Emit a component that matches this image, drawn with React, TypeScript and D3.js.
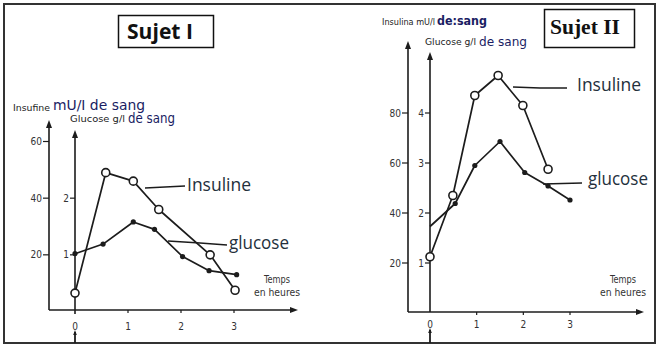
import React from "react";
import * as d3 from "d3";

// ---------- data ----------
const timeTicks = [0, 1, 2, 3];

const s1InsulinTime = [0, 0.58, 1.1, 1.58, 2.55, 3.02];
const s1InsulinValues = [6.5, 49, 46, 36, 20, 7.5];
const s1GlucoseTime = [0, 0.53, 1.1, 1.5, 2.03, 2.53, 3.05];
const s1GlucoseValues = [1.02, 1.19, 1.58, 1.45, 0.97, 0.72, 0.65];
const s1InsulinTicks = [20, 40, 60];
const s1GlucoseTicks = [1, 2];

const s2InsulinTime = [0, 0.49, 0.96, 1.46, 1.99, 2.53];
const s2InsulinValues = [22.5, 47, 87, 95, 83, 57.5];
const s2GlucoseTime = [0, 0.54, 0.96, 1.5, 2.03, 2.53, 3.0];
const s2GlucoseValues = [1.73, 2.19, 2.95, 3.43, 2.81, 2.54, 2.26];
const s2InsulinTicks = [20, 40, 60, 80];
const s2GlucoseTicks = [1, 2, 3, 4];

const INK = "#1c1c1c";
const LEG = "#24303c";
const NAVY = "#1a1d63";

type PanelCfg = {
  x0: number; x3: number;
  yBase: number; yTop: number; insMax: number; gluMax: number;
  insAxisX: number; insAxisTop: number; gluAxisTop: number;
  xAxisY: number; xAxisEnd: number;
  insT: number[]; insV: number[]; gluT: number[]; gluV: number[];
  insTicks: number[]; gluTicks: number[];
  gluFirstMarker: boolean;
  xLabelY: number;
  tempsX: number;
};

function Arrow({ x, y, dir }: { x: number; y: number; dir: "up" | "right" }) {
  const p =
    dir === "up"
      ? `M${x},${y} L${x - 3},${y + 8} L${x + 3},${y + 8} Z`
      : `M${x},${y} L${x - 8},${y - 3} L${x - 8},${y + 3} Z`;
  return <path d={p} fill={INK} />;
}

function Panel({ c }: { c: PanelCfg }) {
  const x = d3.scaleLinear().domain([0, 3]).range([c.x0, c.x3]);
  const yi = d3.scaleLinear().domain([0, c.insMax]).range([c.yBase, c.yTop]);
  const yg = d3.scaleLinear().domain([0, c.gluMax]).range([c.yBase, c.yTop]);
  const insPts: [number, number][] = c.insT.map((t, i) => [x(t), yi(c.insV[i])]);
  const gluPts: [number, number][] = c.gluT.map((t, i) => [x(t), yg(c.gluV[i])]);
  const line = d3.line();
  const gx = x(0);
  const small = "DejaVu Sans Condensed, DejaVu Sans";
  return (
    <g>
      <line x1={c.insAxisX} x2={c.insAxisX} y1={c.xAxisY} y2={c.insAxisTop + 4} stroke={INK} strokeWidth={1.6} />
      <Arrow x={c.insAxisX} y={c.insAxisTop} dir="up" />
      <line x1={gx} x2={gx} y1={c.xLabelY - 12} y2={c.gluAxisTop + 4} stroke={INK} strokeWidth={1.6} />
      <Arrow x={gx} y={c.gluAxisTop} dir="up" />
      <line x1={gx} x2={gx} y1={c.xLabelY + 6} y2={343} stroke={INK} strokeWidth={1.8} />
      <path d={`M${gx},${c.xLabelY + 4} L${gx - 1.8},${c.xLabelY + 9} L${gx + 1.8},${c.xLabelY + 9} Z`} fill={INK} />
      <line x1={c.insAxisX} x2={c.xAxisEnd - 4} y1={c.xAxisY} y2={c.xAxisY} stroke={INK} strokeWidth={1.6} />
      <Arrow x={c.xAxisEnd} y={c.xAxisY} dir="right" />
      {c.insTicks.map((v) => (
        <g key={"i" + v}>
          <line x1={c.insAxisX - 6} x2={c.insAxisX} y1={yi(v)} y2={yi(v)} stroke={INK} strokeWidth={1.2} />
          <text x={c.insAxisX - 7} y={yi(v) + 3.5} fontSize={10} textAnchor="end" fontFamily={small} fill="#333">{v}</text>
        </g>
      ))}
      {c.gluTicks.map((v) => (
        <g key={"g" + v}>
          <line x1={gx - 5} x2={gx} y1={yg(v)} y2={yg(v)} stroke={INK} strokeWidth={1.2} />
          <text x={gx - 6} y={yg(v) + 3.5} fontSize={10} textAnchor="end" fontFamily={small} fill="#333">{v}</text>
        </g>
      ))}
      {timeTicks.map((t) => (
        <g key={"t" + t}>
          {t > 0 && <line x1={x(t)} x2={x(t)} y1={c.xAxisY} y2={c.xAxisY + 3} stroke={INK} strokeWidth={1.2} />}
          <text x={x(t)} y={c.xLabelY + 3.5} fontSize={10} textAnchor="middle" fontFamily={small} fill="#333">{t}</text>
        </g>
      ))}
      <text x={c.tempsX - 13} y={283} fontSize={10} fontFamily={small} fill="#333" textLength={26} lengthAdjust="spacingAndGlyphs">Temps</text>
      <text x={c.tempsX - 23} y={296} fontSize={10} fontFamily={small} fill="#333" textLength={46} lengthAdjust="spacingAndGlyphs">en heures</text>
      <path d={line(insPts) || ""} fill="none" stroke={INK} strokeWidth={1.7} strokeLinejoin="round" />
      <path d={line(gluPts) || ""} fill="none" stroke={INK} strokeWidth={1.7} strokeLinejoin="round" />
      {gluPts.map((p, i) =>
        i === 0 && !c.gluFirstMarker ? null : <circle key={"gp" + i} cx={p[0]} cy={p[1]} r={2.6} fill={INK} />
      )}
      {insPts.map((p, i) => (
        <circle key={"ip" + i} cx={p[0]} cy={p[1]} r={4} fill="#fff" stroke={INK} strokeWidth={1.6} />
      ))}
    </g>
  );
}

const panel1: PanelCfg = {
  x0: 75, x3: 234, yBase: 311.5, yTop: 141.5, insMax: 60, gluMax: 3,
  insAxisX: 49, insAxisTop: 120, gluAxisTop: 130, xAxisY: 310, xAxisEnd: 298,
  insT: s1InsulinTime, insV: s1InsulinValues, gluT: s1GlucoseTime, gluV: s1GlucoseValues,
  insTicks: s1InsulinTicks, gluTicks: s1GlucoseTicks, gluFirstMarker: true,
  xLabelY: 326, tempsX: 277,
};

const panel2: PanelCfg = {
  x0: 430, x3: 570, yBase: 313, yTop: 113, insMax: 80, gluMax: 4,
  insAxisX: 408, insAxisTop: 41, gluAxisTop: 52, xAxisY: 312, xAxisEnd: 644,
  insT: s2InsulinTime, insV: s2InsulinValues, gluT: s2GlucoseTime, gluV: s2GlucoseValues,
  insTicks: s2InsulinTicks, gluTicks: s2GlucoseTicks, gluFirstMarker: false,
  xLabelY: 324, tempsX: 623,
};

export default function App() {
  const legendFont = "Open Sans, Noto Sans, sans-serif";
  return (
    <svg width={659} height={347} style={{ position: "absolute", left: 0, top: 0, background: "#fff" }}>
      <rect x={0} y={0} width={659} height={347} fill="#fff" />
      <rect x={4} y={4} width={651} height={339} fill="none" stroke="#333" strokeWidth={2} />

      {/* Sujet I */}
      <rect x={118.5} y={15.5} width={95} height={32} fill="none" stroke="#111" strokeWidth={1.5} />
      <text x={127} y={39} fontSize={21} fontWeight="bold" fontFamily="Open Sans, sans-serif" fill="#111" textLength={66} lengthAdjust="spacingAndGlyphs">Sujet I</text>
      <text x={13} y={111} fontSize={9} fontFamily="DejaVu Sans Condensed, DejaVu Sans" fill={INK} textLength={37} lengthAdjust="spacingAndGlyphs">Insufine</text>
      <text x={53} y={110} fontSize={14} fontFamily="DejaVu Sans, sans-serif" fill={NAVY} textLength={92} lengthAdjust="spacingAndGlyphs">mU/I de sang</text>
      <text x={70} y={122} fontSize={9} fontFamily="DejaVu Sans Condensed, DejaVu Sans" fill={INK} textLength={55} lengthAdjust="spacingAndGlyphs">Glucose g/l</text>
      <text x={128} y={123} fontSize={14} fontFamily="DejaVu Sans, sans-serif" fill={NAVY} textLength={47} lengthAdjust="spacingAndGlyphs">de sang</text>
      <Panel c={panel1} />
      <polyline points="145,188 185,186" fill="none" stroke={INK} strokeWidth={1.5} />
      <text x={187} y={191} fontSize={18} fontFamily={legendFont} fill={LEG} textLength={64} lengthAdjust="spacingAndGlyphs">Insuline</text>
      <polyline points="168,241 200,243 227,245" fill="none" stroke={INK} strokeWidth={1.5} />
      <text x={229} y={249} fontSize={18} fontFamily={legendFont} fill={LEG} textLength={60} lengthAdjust="spacingAndGlyphs">glucose</text>

      {/* Sujet II */}
      <rect x={544.5} y={9.5} width={90} height={38} fill="none" stroke="#111" strokeWidth={1.5} />
      <text x={550} y={34} fontSize={20} fontWeight="bold" fontFamily="Liberation Serif, Times New Roman, serif" fill="#111" textLength={70} lengthAdjust="spacingAndGlyphs">Sujet II</text>
      <text x={382} y={25} fontSize={8} fontFamily="DejaVu Sans Condensed, DejaVu Sans" fill={INK} textLength={53} lengthAdjust="spacingAndGlyphs">Insulina mU/l</text>
      <text x={437} y={25} fontSize={13} fontWeight="bold" fontFamily="DejaVu Sans, sans-serif" fill={NAVY} textLength={50} lengthAdjust="spacingAndGlyphs">de:sang</text>
      <text x={425} y={45} fontSize={8} fontFamily="DejaVu Sans Condensed, DejaVu Sans" fill={INK} textLength={51} lengthAdjust="spacingAndGlyphs">Glucose g/l</text>
      <text x={479} y={46} fontSize={13} fontFamily="DejaVu Sans, sans-serif" fill={NAVY} textLength={48} lengthAdjust="spacingAndGlyphs">de sang</text>
      <Panel c={panel2} />
      <polyline points="513,87 540,88 567,88" fill="none" stroke={INK} strokeWidth={1.5} />
      <text x={577} y={91} fontSize={18} fontFamily={legendFont} fill={LEG} textLength={64} lengthAdjust="spacingAndGlyphs">Insuline</text>
      <polyline points="543,184 582,183" fill="none" stroke={INK} strokeWidth={1.5} />
      <text x={588} y={185} fontSize={18} fontFamily={legendFont} fill={LEG} textLength={60} lengthAdjust="spacingAndGlyphs">glucose</text>
    </svg>
  );
}
